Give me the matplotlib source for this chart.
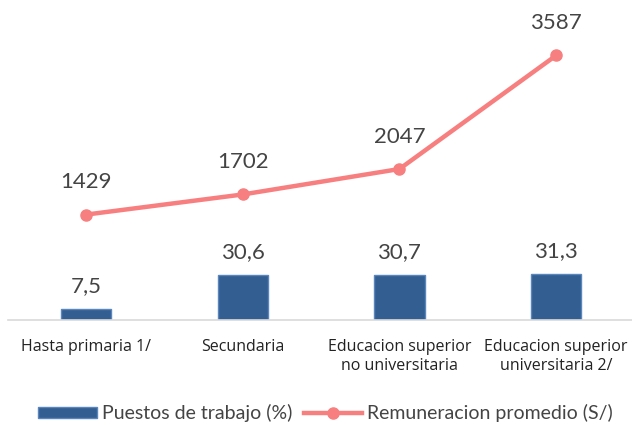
import matplotlib
matplotlib.use("Agg")
import matplotlib.pyplot as plt
from matplotlib.lines import Line2D
from matplotlib.patches import Patch

categories = ["Hasta primaria 1/", "Secundaria", "Educacion superior\nno universitaria", "Educacion superior\nuniversitaria 2/"]
puestos = [7.5, 30.6, 30.7, 31.3]
puestos_labels = ["7,5", "30,6", "30,7", "31,3"]
remuneracion = [1429, 1702, 2047, 3587]

bar_color = "#335E92"
bar_edge = "#5A86BE"
line_color = "#F77F7F"
text_color = "#444444"

fig = plt.figure(figsize=(6.32, 4.25), dpi=100)
ax = fig.add_axes([0.012, 0.247, 0.992, 0.729])
ax2 = ax.twinx()

x = list(range(len(categories)))
ax.bar(x, puestos, width=0.32, color=bar_color, edgecolor=bar_edge, linewidth=1, zorder=2)
ax.set_ylim(0, 211)
ax.set_xlim(-0.5, 3.5)

for xi, v, lab in zip(x, puestos, puestos_labels):
    ax.annotate(lab, (xi, v), xytext=(0, 9), textcoords="offset points", ha="center", va="bottom",
                fontsize=16, color=text_color, family="Lato")

ax2.plot(x, remuneracion, color=line_color, linewidth=3.2, marker="o", markersize=8, zorder=3)
ax2.set_ylim(0, 4200)
for xi, v in zip(x, remuneracion):
    ax2.annotate(str(v), (xi, v), xytext=(0, 16), textcoords="offset points", ha="center", va="bottom",
                 fontsize=16, color=text_color, family="Lato")

for a in (ax, ax2):
    for s in ["top", "right", "left"]:
        a.spines[s].set_visible(False)
    a.set_yticks([])
ax2.spines["bottom"].set_visible(False)
ax.spines["bottom"].set_color("#D9D9D9")
ax.spines["bottom"].set_linewidth(1.2)

ax.set_xticks(x)
ax.set_xticklabels(categories, fontsize=11.5, color="#222222", family="Open Sans")
ax.tick_params(axis="x", length=0, pad=14)

handles = [Patch(facecolor=bar_color, edgecolor=bar_edge),
           Line2D([0], [0], color=line_color, linewidth=3.2, marker="o", markersize=8)]
leg = fig.legend(handles, ["Puestos de trabajo (%)", "Remuneracion promedio (S/)"],
                 loc="lower center", bbox_to_anchor=(0.515, -0.035), ncol=2, frameon=False,
                 prop={"family": "Lato", "size": 14}, handlelength=3.0, handleheight=0.45,
                 handletextpad=0.25, columnspacing=0.6)
for t in leg.get_texts():
    t.set_color(text_color)

fig.savefig("out.png", dpi=100)
